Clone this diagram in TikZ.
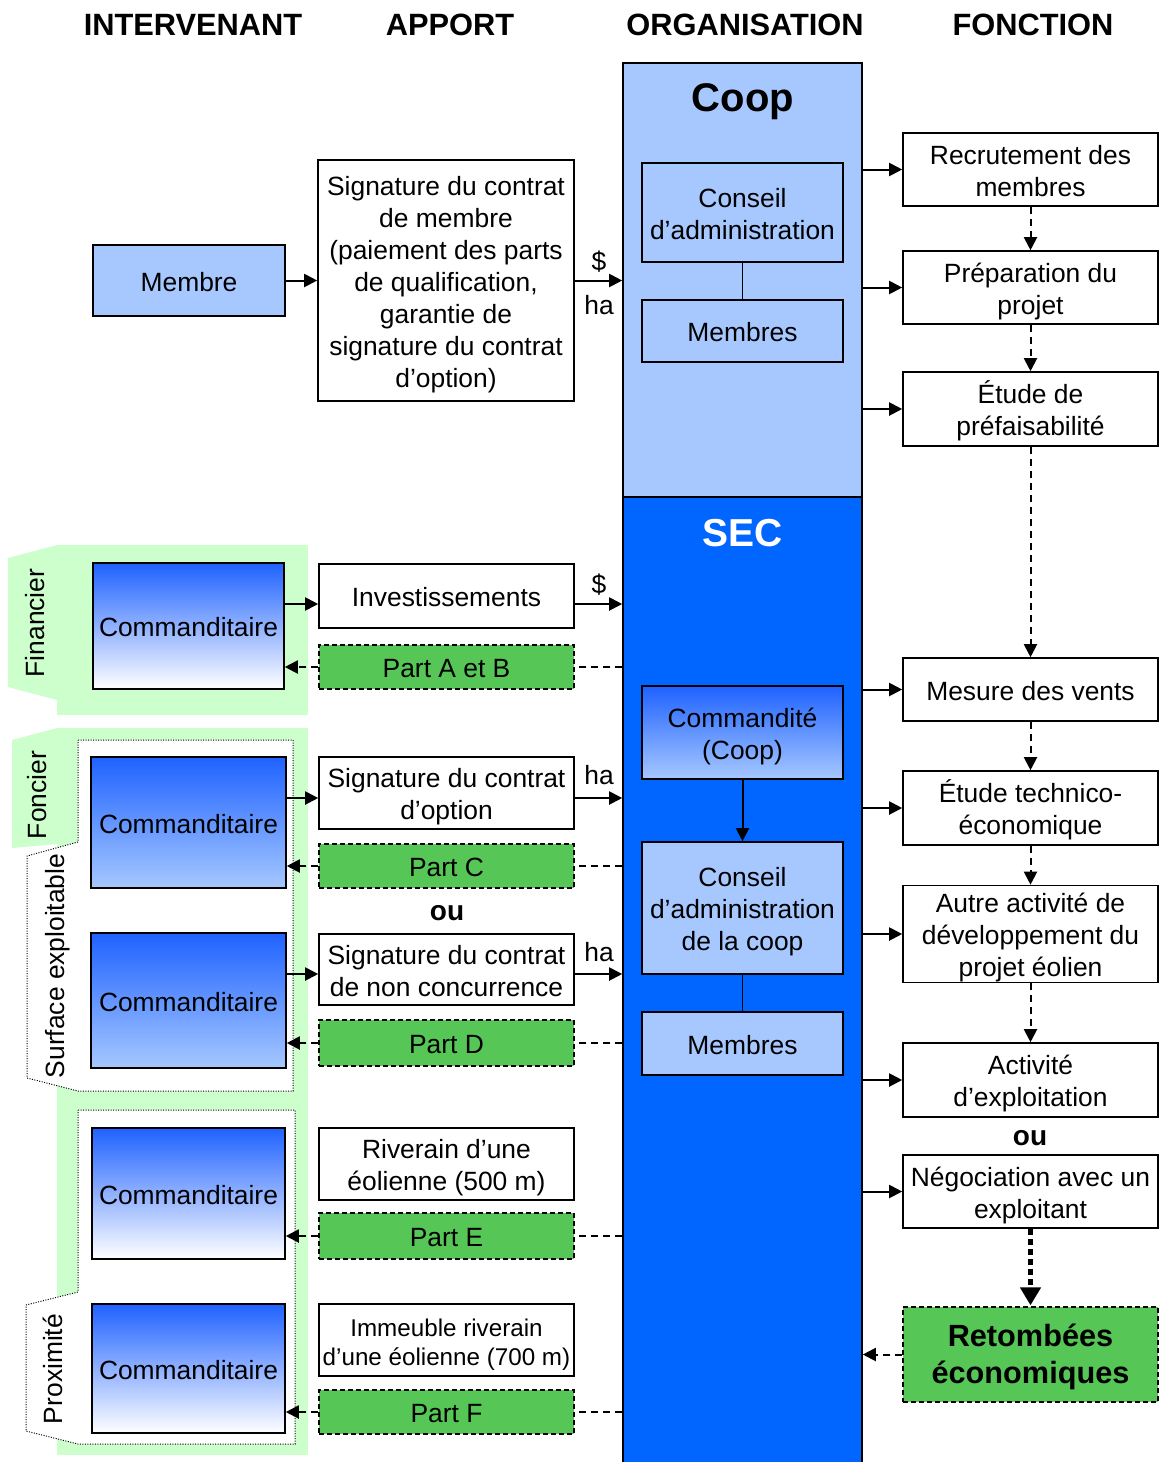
\documentclass[tikz,border=0pt]{standalone}
\usepackage{fontspec}
\setmainfont{Liberation Sans}
\usetikzlibrary{arrows.meta,calc}
\definecolor{lblue}{HTML}{A6C8FF}
\definecolor{sblue}{HTML}{0066FF}
\definecolor{gblue}{HTML}{1F62FF}
\definecolor{bggreen}{HTML}{CCFFCC}
\definecolor{pgreen}{HTML}{56C656}
\newcommand{\fst}{\rule{0pt}{27pt}}
\newcommand{\lst}{\rule[-6pt]{0pt}{0pt}}
\tikzset{
  x=1pt, y=-1pt,
  base/.style={draw=black, line width=1.6pt, inner sep=0pt, align=center, font=\fontsize{26.4}{32}\selectfont,
    execute at begin node={\fst}, execute at end node={\lst}},
  wbox/.style={base, fill=white, minimum width=255pt},
  lbbox/.style={base, fill=lblue, minimum width=201pt},
  part/.style={base, fill=pgreen, dash pattern=on 5pt off 3pt, line width=1.3pt, minimum width=255pt},
  commw/.style={base, top color=gblue, bottom color=white, minimum width=193pt},
  commb/.style={base, top color=gblue, bottom color=lblue, minimum width=195pt},
  head/.style={font=\fontsize{30.8}{36}\selectfont\bfseries, inner sep=0pt},
  lab/.style={font=\fontsize{26.4}{32}\selectfont, inner sep=0pt},
  oubold/.style={font=\fontsize{28}{32}\selectfont\bfseries, inner sep=0pt},
  tip/.style={-{Triangle[length=13pt,width=13pt]}},
  arr/.style={line width=2pt, tip},
  darr/.style={line width=2pt, dash pattern=on 7pt off 5pt, tip},
  dline/.style={line width=2pt, dash pattern=on 7pt off 5pt},
  fdarr/.style={line width=2pt, dash pattern=on 7pt off 5pt, tip},
  dotbox/.style={draw=black, line width=1pt, dash pattern=on 1pt off 1.5pt, fill=white},
}
\begin{document}
\begin{tikzpicture}
\useasboundingbox (0,0) rectangle (1159,1462);

% headers
\node[head] (h1) at (193,25) {INTERVENANT};
\node[head] (h2) at (450,25) {APPORT};
\node[head] (h3) at (745,25) {ORGANISATION};
\node[head] (h4) at (1033,25) {FONCTION};

% organisation columns
\node[draw=black, line width=1.6pt, fill=sblue, minimum width=239pt, minimum height=975pt] (sec) at (742.5,984.5) {};
\node[draw=black, line width=1.6pt, fill=lblue, minimum width=239pt, minimum height=434pt] (coop) at (742.5,280) {};
\node[font=\fontsize{40}{44}\selectfont\bfseries, inner sep=0pt] (cooplab) at (743,102) {Coop};
\node[font=\fontsize{39}{44}\selectfont\bfseries, text=white, inner sep=0pt] (seclab) at (743,533) {SEC};

\node[lbbox, minimum height=99pt] (cons1) at (742.5,212.5) {\fst Conseil\\d’administration\lst};
\node[lbbox, minimum height=62pt] (mem1) at (742.5,331) {Membres};
\draw[line width=1.6pt] (cons1) -- (mem1);

\node[base, top color=gblue, bottom color=lblue, minimum width=201pt, minimum height=93pt] (cdite) at (742.5,732.5) {\fst Commandité\\(Coop)\lst};
\node[lbbox, minimum height=132pt] (cons2) at (742.5,908) {\fst Conseil\\d’administration\\de la coop\lst};
\node[lbbox, minimum height=63pt] (mem2) at (742.5,1043.5) {Membres};
\draw[arr] (cdite) -- (cons2);
\draw[line width=1.6pt] (cons2) -- (mem2);

% membre row
\node[base, fill=lblue, minimum width=192pt, minimum height=71pt] (membre) at (189,280.5) {Membre};
\node[wbox, minimum width=256pt, minimum height=241pt] (sig1) at (446,280.5) {\fst Signature du contrat\\de membre\\(paiement des parts\\de qualification,\\garantie de\\signature du contrat\\d’option)\lst};
\draw[arr] (membre) -- (sig1);
\draw[arr] (sig1.east) -- (sig1.east -| coop.west);
\node[lab] (d1) at (599,262) {\$};
\node[lab] (ha1) at (599,305) {ha};

% green backgrounds
\fill[bggreen] (57,545) rectangle (308,715);
\fill[bggreen] (57,545) -- (8,558) -- (8,687) -- (57,700) -- cycle;
\node[lab, rotate=90] (tfin) at (35,623) {Financier};

\fill[bggreen] (57,728) rectangle (308,1455);
\fill[bggreen] (57,728) -- (12,740) -- (12,848) -- (80,842) -- (80,728) -- cycle;
\node[lab, rotate=90] (tfon) at (37,795) {Foncier};

\draw[dotbox] (78,740) -- (293,740) -- (293,1091) -- (78,1091) -- (27,1078) -- (27,856) -- (78,842) -- cycle;
\node[lab, rotate=90] (tsurf) at (58,966) {Surface exploitable};

\draw[dotbox] (78,1110) -- (295,1110) -- (295,1444) -- (78,1444) -- (26,1431) -- (26,1305) -- (78,1292) -- cycle;
\node[lab, rotate=90] (tprox) at (53,1369) {Proximité};

% financier
\node[commw, minimum width=191pt, minimum height=126pt] (comm1) at (188.5,626) {Commanditaire};
\node[wbox, minimum height=64pt] (invest) at (446.5,596) {Investissements};
\node[part, minimum height=44pt] (pab) at (446.5,667) {Part A et B};
\draw[arr] (comm1.east |- {$(invest.west)+(0,8)$}) -- ($(invest.west)+(0,8)$);
\draw[arr] ($(invest.east)+(0,8)$) -- ($(invest.east -| sec.west)+(0,8)$);
\node[lab] (d2) at (599,585) {\$};
\draw[dline] (pab.east -| sec.west) -- (pab.east);
\draw[darr] (pab.west) -- (pab.west -| comm1.east);

% foncier
\node[commb, minimum height=131pt] (comm2) at (188.5,822.5) {Commanditaire};
\node[wbox, minimum height=72pt] (sig2) at (446.5,793) {\fst Signature du contrat\\d’option\lst};
\node[part, minimum height=44pt] (pc) at (446.5,866) {Part C};
\draw[arr] (comm2.east |- {$(sig2.west)+(0,5)$}) -- ($(sig2.west)+(0,5)$);
\draw[arr] ($(sig2.east)+(0,5)$) -- ($(sig2.east -| sec.west)+(0,5)$);
\node[lab] (ha2) at (599,775) {ha};
\draw[dline] (pc.east -| sec.west) -- (pc.east);
\draw[darr] (pc.west) -- (pc.west -| comm2.east);

\node[oubold] (ou1) at (447,913) {ou};

\node[commb, minimum height=135pt] (comm3) at (188.5,1000.5) {Commanditaire};
\node[wbox, minimum height=71pt] (sig3) at (446.5,969.5) {\fst Signature du contrat\\de non concurrence\lst};
\node[part, minimum height=46pt] (pd) at (446.5,1043) {Part D};
\draw[arr] (comm3.east |- {$(sig3.west)+(0,4.5)$}) -- ($(sig3.west)+(0,4.5)$);
\draw[arr] ($(sig3.east)+(0,4.5)$) -- ($(sig3.east -| sec.west)+(0,4.5)$);
\node[lab] (ha3) at (599,952) {ha};
\draw[dline] (pd.east -| sec.west) -- (pd.east);
\draw[darr] (pd.west) -- (pd.west -| comm3.east);

% proximite
\node[commw, minimum height=131pt] (comm4) at (188.5,1193.5) {Commanditaire};
\node[wbox, minimum height=72pt] (riv) at (446.5,1164) {\fst Riverain d’une\\éolienne (500 m)\lst};
\node[part, minimum height=46pt] (pe) at (446.5,1236) {Part E};
\draw[dline] (pe.east -| sec.west) -- (pe.east);
\draw[darr] (pe.west) -- (pe.west -| comm4.east);

\node[commw, minimum height=129pt] (comm5) at (188.5,1368.5) {Commanditaire};
\node[wbox, minimum height=72pt, font=\fontsize{24.2}{29}\selectfont] (imm) at (446.5,1340) {\fst Immeuble riverain\\d’une éolienne (700 m)\lst};
\node[part, minimum height=44pt] (pf) at (446.5,1412) {Part F};
\draw[dline] (pf.east -| sec.west) -- (pf.east);
\draw[darr] (pf.west) -- (pf.west -| comm5.east);

% fonctions
\node[wbox, minimum height=73pt] (f1) at (1030.5,169.5) {\fst Recrutement des\\membres\lst};
\node[wbox, minimum height=73pt] (f2) at (1030.5,287.5) {\fst Préparation du\\projet\lst};
\node[wbox, minimum height=74pt] (f3) at (1030.5,409) {\fst Étude de\\préfaisabilité\lst};
\node[wbox, minimum height=63pt] (f4) at (1030.5,689.5) {Mesure des vents};
\node[wbox, minimum height=74pt] (f5) at (1030.5,808) {\fst Étude technico-\\économique\lst};
\node[wbox, minimum height=96pt] (f6) at (1030.5,934) {\fst Autre activité de\\développement du\\projet éolien\lst};
\node[wbox, minimum height=74pt] (f7) at (1030.5,1080) {\fst Activité\\d’exploitation\lst};
\node[oubold] (ou2) at (1030,1138) {ou};
\node[wbox, minimum height=73pt] (f8) at (1030.5,1191.5) {\fst Négociation avec un\\exploitant\lst};
\node[part, minimum height=95pt, font=\fontsize{30.7}{37}\selectfont\bfseries] (ret) at (1030.5,1354.5) {\fst Retombées\\économiques\lst};

\foreach \f in {f1,f2,f3} \draw[arr] (\f.west -| coop.east) -- (\f.west);
\foreach \f in {f4,f5,f6,f7,f8} \draw[arr] (\f.west -| sec.east) -- (\f.west);
\draw[fdarr] (f1) -- (f2);
\draw[fdarr] (f2) -- (f3);
\draw[fdarr] (f3) -- (f4);
\draw[fdarr] (f4) -- (f5);
\draw[fdarr] (f5) -- (f6);
\draw[fdarr] (f6) -- (f7);
\draw[line width=5pt, dash pattern=on 6pt off 4pt, -{Triangle[length=18pt,width=20pt]}, shorten >=1pt] (f8) -- (ret);
\draw[darr] (ret.west) -- (ret.west -| sec.east);
\end{tikzpicture}
\end{document}
